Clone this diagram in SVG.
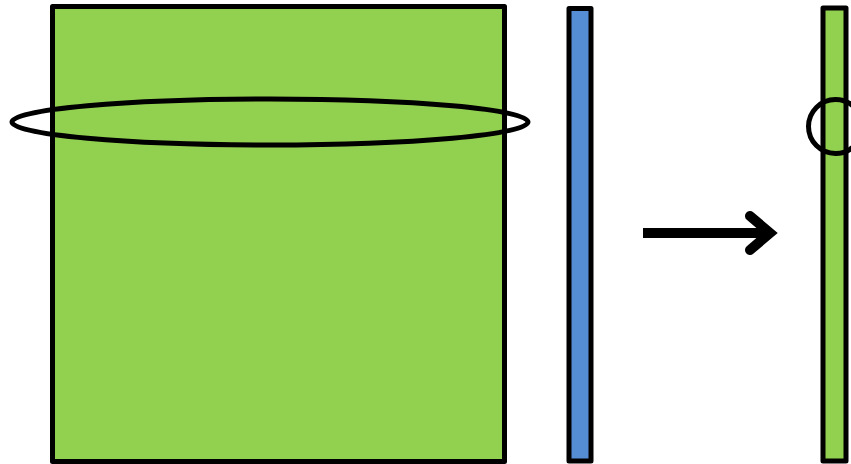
<svg xmlns="http://www.w3.org/2000/svg" width="851" height="464" viewBox="0 0 851 464">
<style>
.shape{stroke:#000;stroke-width:5;stroke-linejoin:round}
.green{fill:#92d050}
.blue{fill:#558ed5}
.ring{fill:none;stroke:#000;stroke-width:5}
</style>
<rect width="851" height="464" fill="#fff"/>
<g id="big-square"><rect class="shape green" x="52.5" y="6.5" width="452" height="455"/></g>
<g id="blue-bar"><rect class="shape blue" x="569" y="8.5" width="22" height="452.5"/></g>
<g id="thin-bar"><rect class="shape green" x="823" y="8" width="23" height="453"/></g>
<g id="ellipse"><ellipse class="ring" cx="270" cy="122" rx="258" ry="23"/></g>
<g id="small-circle"><circle class="ring" cx="835.5" cy="126.5" r="27"/></g>
<g id="connectors">
<line x1="643" y1="233" x2="770" y2="233" stroke="#000" stroke-width="10"/>
<polyline points="750,216 770,233 750,250" fill="none" stroke="#000" stroke-width="10" stroke-linecap="round" stroke-linejoin="miter"/>
</g>
</svg>
